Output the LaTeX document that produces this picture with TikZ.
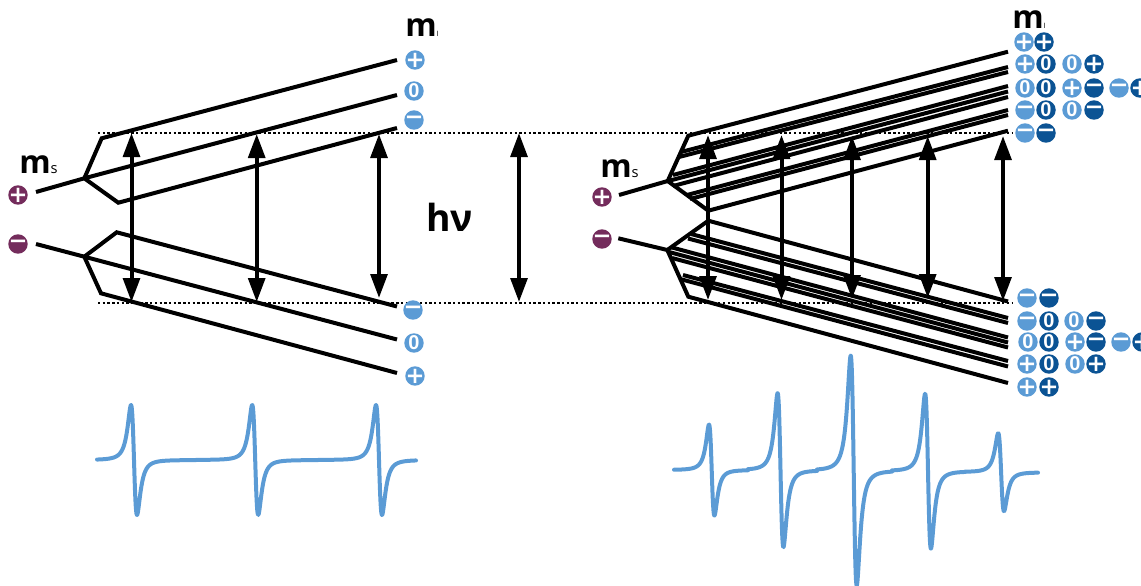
\documentclass[tikz,border=0pt]{standalone}
\usepackage{fontspec}
\setmainfont{Open Sans}[BoldFont={* Bold}]
\newfontfamily\symfont{DejaVu Sans Bold}
\newfontfamily\zerofont{Liberation Sans Bold}
\usetikzlibrary{arrows.meta}
\definecolor{lightb}{HTML}{5B9BD5}
\definecolor{darkb}{HTML}{0B5394}
\definecolor{plum}{HTML}{742C5C}
\newcommand{\chipP}{{\symfont\fontsize{17pt}{17pt}\selectfont +}}
\newcommand{\chipM}{{\symfont\fontsize{17pt}{17pt}\selectfont −}}
\newcommand{\chipZ}{{\zerofont\fontsize{15pt}{15pt}\selectfont 0}}
\newcommand{\mlabel}[1]{{\bfseries\fontsize{24pt}{24pt}\selectfont m}{\fontsize{#1}{#1}\selectfont\ifdim#1<8pt I\else s\fi}}
\tikzset{
  chip/.style={circle,fill=#1,text=white,inner sep=-6pt,minimum size=14.6pt,text centered},
  lb/.style={chip=lightb},
  db/.style={chip=darkb},
  pl/.style={chip=plum},
  level/.style={line width=3pt,black,line join=miter},
  dots/.style={line width=2.1pt,black,dash pattern=on 1.8pt off 1.75pt},
  photon/.style={line width=3pt,black,{Triangle[length=18pt,width=12.5pt]}-{Triangle[length=18pt,width=12.5pt]},shorten <=0pt,shorten >=0pt},
  spectrum/.style={line width=3pt,lightb,line join=round,line cap=round},
  lab/.style={anchor=base west,inner sep=0pt,text=black},
}
% a first-derivative absorption line: \speak{from}{to}{centre}{half-spacing}{amplitude}{base at from}{base slope}
\newcommand{\speak}[7]{%
  \draw[spectrum] plot[domain=#1:#2,samples=300,smooth,variable=\t]
    ({\t},{#6+#7*(\t-#1)+#5/0.6495*2*((\t-#3)*0.577/#4)/(1+((\t-#3)*0.577/#4)*((\t-#3)*0.577/#4))/(1+((\t-#3)*0.577/#4)*((\t-#3)*0.577/#4))});}
\begin{document}
\begin{tikzpicture}[x=0.75pt,y=-0.75pt]
\useasboundingbox (0,0) rectangle (1141,585);
\clip (0,0) rectangle (1141,585);
% dotted levels
\coordinate (dTl) at (98,133); \coordinate (dTr) at (1012,133);
\coordinate (dBl) at (98,303); \coordinate (dBr) at (1012,303);
\draw[dots] (dTl) -- (dTr);
\draw[dots] (dBl) -- (dBr);
% LEFT upper
\coordinate (LpS) at (36,192); \coordinate (LpJ) at (84.3,178.3);
\coordinate (LpA) at (101.7,138.3); \coordinate (LpAe) at (397,60);
\coordinate (LpBe) at (397,95);
\coordinate (LpC) at (118.3,202.7); \coordinate (LpCe) at (397,128);
\draw[level] (LpS) -- (LpJ) -- (LpBe);
\draw[level] (LpJ) -- (LpA) -- (LpAe);
\draw[level] (LpJ) -- (LpC) -- (LpCe);
% LEFT lower
\coordinate (LmS) at (36,244); \coordinate (LmJ) at (84.3,256.7);
\coordinate (LmA) at (116.7,232.3); \coordinate (LmAe) at (397,306.5);
\coordinate (LmBe) at (397,339.5);
\coordinate (LmC) at (101,293.3); \coordinate (LmCe) at (397,373);
\draw[level] (LmS) -- (LmJ) -- (LmBe);
\draw[level] (LmJ) -- (LmA) -- (LmAe);
\draw[level] (LmJ) -- (LmC) -- (LmCe);
% RIGHT upper
\coordinate (RpS) at (619,195); \coordinate (RpJ) at (667.7,181);
\coordinate (RpA) at (688.3,135.7); \coordinate (RpAe) at (1008,51.7);
\coordinate (RpC) at (708.3,210.7); \coordinate (RpCe) at (1008,130.7);
\draw[level] (RpS) -- (RpJ);
\draw[level] (RpJ) -- (RpA) -- (RpAe);
\draw[level] (RpJ) -- (RpC) -- (RpCe);
\foreach \n/\a/\b/\c/\d in {a/681/152/1008/67,b/679/157/1008/72,c/673/175/1008/86,d/670/180.5/1008/91.5,e/673/186/1008/97,f/687/195/1008/110,g/690/199/1008/115}{
  \coordinate (Ru\n s) at (\a,\b); \coordinate (Ru\n e) at (\c,\d);
  \draw[level] (Ru\n s) -- (Ru\n e);
}
% RIGHT lower
\coordinate (RmS) at (618.3,238.3); \coordinate (RmJ) at (667.3,250);
\coordinate (RmA) at (708.3,220.7); \coordinate (RmAe) at (1008,301.5);
\coordinate (RmC) at (688.3,296.7); \coordinate (RmCe) at (1008,383);
\draw[level] (RmS) -- (RmJ);
\draw[level] (RmJ) -- (RmA) -- (RmAe);
\draw[level] (RmJ) -- (RmC) -- (RmCe);
\foreach \n/\a/\b/\c/\d in {a/691/234/1008/318,b/688/238.5/1008/323,c/672/247.5/1008/337.5,d/669/252/1008/342.5,e/672/258/1008/347.5,f/683/275/1008/361,g/680/279/1008/366.5}{
  \coordinate (Rl\n s) at (\a,\b); \coordinate (Rl\n e) at (\c,\d);
  \draw[level] (Rl\n s) -- (Rl\n e);
}
% photon arrows
\foreach \n/\x/\t/\b in {a/131.5/133/302,b/256.7/134/302,c/379/134/298,d/519/133/302,e/708/135/300,f/781.5/135/300,g/852/136/299,h/927.7/136/298,i/1003/136/301}{
  \coordinate (ph\n t) at (\x,\t); \coordinate (ph\n b) at (\x,\b);
  \draw[photon] (ph\n t) -- (ph\n b);
}
% chips
\foreach \n/\x/\y/\s/\g in {
 ua/415/60/lb/\chipP, ub/414/91/lb/\chipZ, uc/414/120/lb/\chipM,
 ud/413/310/lb/\chipM, ue/414/343/lb/\chipZ, uf/415/376/lb/\chipP,
 pa/18/195/pl/\chipP, pb/18/244/pl/\chipM, pc/602/197/pl/\chipP, pd/602/239/pl/\chipM,
 a1/1024/42/lb/\chipP, a2/1044/42/db/\chipP,
 b1/1025/64/lb/\chipP, b2/1046/64/db/\chipZ, b3/1072/64/lb/\chipZ, b4/1094/64/db/\chipP,
 c1/1025/88/lb/\chipZ, c2/1046/88/db/\chipZ, c3/1072/88/lb/\chipP, c4/1094/88/db/\chipM, c5/1119/88/lb/\chipM, c6/1140/88/db/\chipP,
 d1/1025/110/lb/\chipM, d2/1046/110/db/\chipZ, d3/1072/110/lb/\chipZ, d4/1094/110/db/\chipM,
 e1/1025/133/lb/\chipM, e2/1046/133/db/\chipM,
 f1/1027/298/lb/\chipM, f2/1049/298/db/\chipM,
 g1/1027/321/lb/\chipM, g2/1049/321/db/\chipZ, g3/1074/321/lb/\chipZ, g4/1096/321/db/\chipM,
 h1/1028/342/lb/\chipZ, h2/1049/342/db/\chipZ, h3/1075/342/lb/\chipP, h4/1096/342/db/\chipM, h5/1121/342/lb/\chipM, h6/1142/342/db/\chipP,
 i1/1027/364/lb/\chipP, i2/1049/364/db/\chipZ, i3/1075/364/lb/\chipZ, i4/1096/364/db/\chipP,
 j1/1027/387/lb/\chipP, j2/1049/387/db/\chipP}{
  \node[\s] (chip\n) at (\x,\y) {\g};
}
% labels
\node[lab] (mI1) at (405,36.7) {\mlabel{5.5pt}};
\node[lab] (mI2) at (1012,29) {\mlabel{5.5pt}};
\node[lab] (mS1) at (19,173) {\mlabel{11pt}};
\node[lab] (mS2) at (600,177) {\mlabel{11pt}};
\node[lab] (hnu) at (426,231) {\bfseries\fontsize{28pt}{28pt}\selectfont hν};
% spectra
\speak{97}{196}{134}{3}{55}{460}{0}
\speak{196}{318}{255.2}{3}{55}{460}{0}
\speak{318}{416}{379}{3}{55}{460}{0}
\speak{674}{748}{711.7}{2.7}{45.5}{470}{0}
\speak{748}{817}{780.5}{2.9}{77}{470}{0.005}
\speak{817}{892}{853.7}{3}{115}{470.4}{0.005}
\speak{892}{965}{928}{2.9}{77.5}{471}{0.005}
\speak{965}{1038}{1001.1}{2.9}{39}{472}{0.005}
\end{tikzpicture}
\end{document}
